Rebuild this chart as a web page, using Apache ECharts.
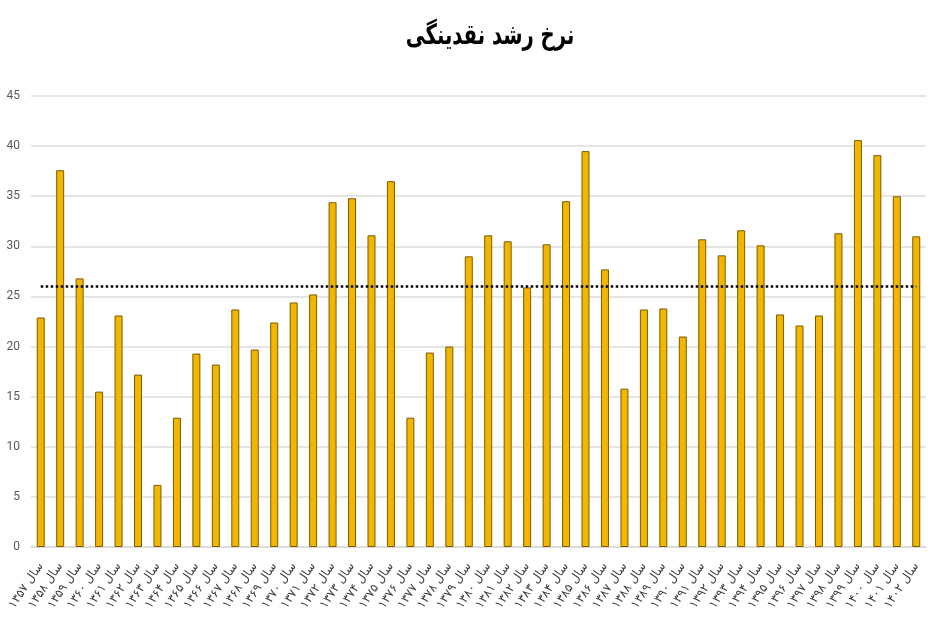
<!DOCTYPE html>
<html>
<head>
<meta charset="utf-8">
<script src="https://cdn.jsdelivr.net/npm/echarts@6/dist/echarts.min.js"></script>
<style>
html,body{margin:0;padding:0;background:#fff;}
#chart{width:950px;height:634px;}
</style>
</head>
<body>
<div id="chart"></div>
<script>
const titleText = 'نرخ رشد نقدینگی';
const categories = [
  'سال ۱۳۵۷','سال ۱۳۵۸','سال ۱۳۵۹','سال ۱۳۶۰','سال ۱۳۶۱','سال ۱۳۶۲','سال ۱۳۶۳','سال ۱۳۶۴',
  'سال ۱۳۶۵','سال ۱۳۶۶','سال ۱۳۶۷','سال ۱۳۶۸','سال ۱۳۶۹','سال ۱۳۷۰','سال ۱۳۷۱','سال ۱۳۷۲',
  'سال ۱۳۷۳','سال ۱۳۷۴','سال ۱۳۷۵','سال ۱۳۷۶','سال ۱۳۷۷','سال ۱۳۷۸','سال ۱۳۷۹','سال ۱۳۸۰',
  'سال ۱۳۸۱','سال ۱۳۸۲','سال ۱۳۸۳','سال ۱۳۸۴','سال ۱۳۸۵','سال ۱۳۸۶','سال ۱۳۸۷','سال ۱۳۸۸',
  'سال ۱۳۸۹','سال ۱۳۹۰','سال ۱۳۹۱','سال ۱۳۹۲','سال ۱۳۹۳','سال ۱۳۹۴','سال ۱۳۹۵','سال ۱۳۹۶',
  'سال ۱۳۹۷','سال ۱۳۹۸','سال ۱۳۹۹','سال ۱۴۰۰','سال ۱۴۰۱','سال ۱۴۰۲'
];
const growthRate = [
  22.9, 37.6, 26.8, 15.5, 23.1, 17.2, 6.2, 12.9,
  19.3, 18.2, 23.7, 19.7, 22.4, 24.4, 25.2, 34.4,
  34.8, 31.1, 36.5, 12.9, 19.4, 20.0, 29.0, 31.1,
  30.5, 25.9, 30.2, 34.5, 39.5, 27.7, 15.8, 23.7,
  23.8, 21.0, 30.7, 29.1, 31.6, 30.1, 23.2, 22.1,
  23.1, 31.3, 40.6, 39.1, 35.0, 31.0
];
const averageRate = 26.0;
const yTicks = { min: 0, max: 45, interval: 5 };

const chart = echarts.init(document.getElementById('chart'));
chart.setOption({
  animation: false,
  backgroundColor: '#ffffff',
  graphic: [{
    type: 'text',
    x: 490,
    y: 37,
    scaleX: 0.7,
    scaleY: 1,
    style: {
      text: titleText,
      fontFamily: 'DejaVu Sans',
      fontSize: 28,
      fontWeight: 'bold',
      fill: '#000',
      align: 'center',
      verticalAlign: 'middle'
    }
  }],
  grid: { left: 31, right: 24, top: 96, bottom: 87, containLabel: false },
  xAxis: {
    type: 'category',
    data: categories,
    axisLine: { show: true, lineStyle: { color: '#d9d9d9', width: 1.5 } },
    axisTick: { show: false },
    axisLabel: {
      interval: 0,
      rotate: 56,
      margin: 17,
      fontSize: 12,
      fontFamily: 'DejaVu Sans',
      color: '#404040'
    }
  },
  yAxis: {
    type: 'value',
    min: yTicks.min,
    max: yTicks.max,
    interval: yTicks.interval,
    axisLine: { show: false },
    axisTick: { show: false },
    splitLine: { lineStyle: { color: '#dcdcdc', width: 1.5 } },
    axisLabel: {
      margin: 11,
      fontSize: 12,
      fontFamily: "'Liberation Sans Narrow', 'Roboto', sans-serif",
      color: '#595959'
    }
  },
  series: [{
    type: 'bar',
    data: growthRate,
    barWidth: 8,
    itemStyle: { color: '#F2B600', borderColor: '#7a5c00', borderWidth: 1 },
    markLine: {
      silent: true,
      symbol: ['none', 'none'],
      label: { show: false },
      lineStyle: { color: '#000', type: 'dotted', width: 2.5 },
      data: [[
        { coord: [0, averageRate] },
        { coord: [categories.length - 1, averageRate] }
      ]]
    }
  }]
});
</script>
</body>
</html>
